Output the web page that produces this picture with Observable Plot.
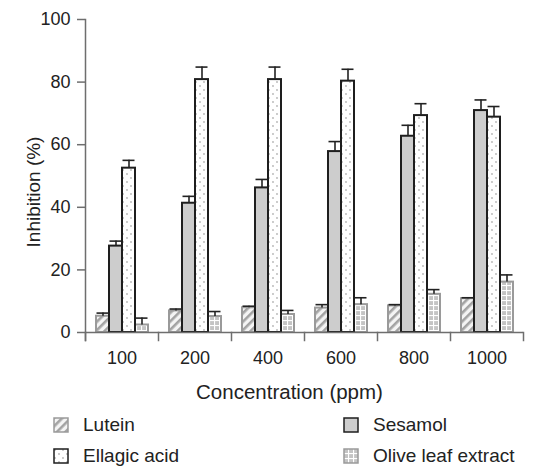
<!DOCTYPE html>
<html>
<head>
<meta charset="utf-8">
<script src="https://cdn.jsdelivr.net/npm/d3@7"></script>
<script src="https://cdn.jsdelivr.net/npm/@observablehq/plot@0.6"></script>
<style>
  body { margin: 0; background: #fff; font-family: "Liberation Sans", Arial, Helvetica, sans-serif; }
  #legend { position: relative; width: 551px; height: 61px; color: #222; font-size: 19px; }
  .item { position: absolute; display: flex; align-items: center; height: 20px; }
  .item svg { margin-right: 14px; }
</style>
</head>
<body>
<svg width="0" height="0" style="position:absolute">
  <defs>
    <pattern id="p-lutein" patternUnits="userSpaceOnUse" width="6" height="6" patternTransform="rotate(45)">
      <rect width="6" height="6" fill="#f4f4f4"></rect>
      <rect x="0" y="0" width="2.6" height="6" fill="#a3a3a3"></rect>
    </pattern>
    <pattern id="p-ellagic" patternUnits="userSpaceOnUse" width="8" height="8">
      <rect width="8" height="8" fill="#ffffff"></rect>
      <circle cx="2" cy="2" r="0.9" fill="#b5b5b5"></circle>
      <circle cx="6" cy="6" r="0.9" fill="#b5b5b5"></circle>
    </pattern>
    <pattern id="p-olive" patternUnits="userSpaceOnUse" width="5" height="5">
      <rect width="5" height="5" fill="#c4c4c4"></rect>
      <rect x="0" y="0" width="5" height="1.1" fill="#ffffff"></rect>
      <rect x="0" y="0" width="1.1" height="5" fill="#ffffff"></rect>
    </pattern>
  </defs>
</svg>
<div id="chart"></div>
<div id="legend"></div>
<script>
const groups = ["100", "200", "400", "600", "800", "1000"];
const series = ["Lutein", "Sesamol", "Ellagic acid", "Olive leaf extract"];
const lutein     = [5.2, 6.9, 7.9, 7.8, 8.5, 10.8];
const luteinErr  = [1.0, 0.6, 0.5, 1.1, 0.4, 0.3];
const sesamol    = [27.6, 41.3, 46.2, 57.8, 62.7, 70.9];
const sesamolErr = [1.6, 2.2, 2.7, 3.2, 3.5, 3.4];
const ellagic    = [52.5, 80.8, 80.8, 80.3, 69.3, 68.8];
const ellagicErr = [2.5, 4.0, 4.0, 3.8, 3.8, 3.4];
const olive      = [2.4, 5.1, 5.75, 8.9, 12.2, 16.1];
const oliveErr   = [2.2, 1.6, 1.3, 2.2, 1.5, 2.3];
const yTicks = [0, 20, 40, 60, 80, 100];

const valuesBySeries = {
  "Lutein": [lutein, luteinErr],
  "Sesamol": [sesamol, sesamolErr],
  "Ellagic acid": [ellagic, ellagicErr],
  "Olive leaf extract": [olive, oliveErr]
};
const rows = [];
groups.forEach((g, i) => {
  series.forEach(s => {
    rows.push({conc: g, series: s, value: valuesBySeries[s][0][i], err: valuesBySeries[s][1][i]});
  });
});

const styles = {
  "Lutein": {fill: "url(#p-lutein)", stroke: "#9a9a9a"},
  "Sesamol": {fill: "#cdcdcd", stroke: "#1e1e1e"},
  "Ellagic acid": {fill: "url(#p-ellagic)", stroke: "#1e1e1e"},
  "Olive leaf extract": {fill: "url(#p-olive)", stroke: "#9a9a9a"}
};
const drawOrder = ["Lutein", "Olive leaf extract", "Sesamol", "Ellagic acid"];

const axisGray = "#6e6e6e";
const H = 405, MT = 19, MB = 73;
const frameH = H - MT - MB;

const chart = Plot.plot({
  width: 551,
  height: H,
  marginLeft: 84,
  marginRight: 28,
  marginTop: MT,
  marginBottom: MB,
  style: {fontFamily: '"Liberation Sans", Arial, Helvetica, sans-serif', fontSize: "18px", color: "#222", background: "white"},
  fx: {domain: groups, padding: 0, label: null},
  x: {domain: series, paddingInner: 0, paddingOuter: 0.613, axis: null},
  y: {domain: [0, 100], label: null},
  marks: [
    ...drawOrder.map(s => Plot.barY(rows.filter(d => d.series === s), {
      fx: "conc", x: "series", y: "value",
      fill: styles[s].fill, stroke: styles[s].stroke, strokeWidth: 2
    })),
    Plot.ruleX(rows, {fx: "conc", x: "series", y1: "value", y2: d => d.value + d.err, stroke: "#222", strokeWidth: 1.6}),
    Plot.tickY(rows, {fx: "conc", x: "series", y: d => d.value + d.err, stroke: "#222", strokeWidth: 1.6, insetLeft: 0.5, insetRight: 0.5}),
    Plot.ruleY([0], {stroke: axisGray, strokeWidth: 1.5}),
    Plot.frame({anchor: "left", facetAnchor: "left", stroke: axisGray, strokeWidth: 1.5, insetBottom: -8}),
    Plot.frame({anchor: "left", stroke: axisGray, strokeWidth: 1.5, insetTop: frameH, insetBottom: -8}),
    Plot.frame({anchor: "right", facetAnchor: "right", stroke: axisGray, strokeWidth: 1.5, insetTop: frameH, insetBottom: -8}),
    Plot.axisY({ticks: yTicks, tickSize: 8, tickPadding: 7, stroke: axisGray, strokeWidth: 1.5, fill: "#222", label: null}),
    Plot.axisFx({anchor: "bottom", tickSize: 0, tickPadding: 19, fill: "#222", label: null}),
    Plot.text(["Concentration (ppm)"], {frameAnchor: "bottom", facet: "super", textAnchor: "middle", lineAnchor: "middle", dx: -15, dy: 60, fontSize: 20.5, fill: "#222"}),
    Plot.text(["Inhibition (%)"], {frameAnchor: "left", facet: "super", textAnchor: "middle", lineAnchor: "middle", rotate: -90, dx: -52, dy: 16, fontSize: 19, fill: "#222"})
  ]
});
document.getElementById("chart").appendChild(chart);

// Legend
const legend = document.getElementById("legend");
const legendPos = {
  "Lutein": [53, 10],
  "Sesamol": [343, 10],
  "Ellagic acid": [53, 41],
  "Olive leaf extract": [343, 41]
};
series.forEach(s => {
  const [lx, ly] = legendPos[s];
  const item = document.createElement("div");
  item.className = "item";
  item.style.left = lx + "px";
  item.style.top = ly + "px";
  item.innerHTML = `<svg width="16" height="16"><rect x="1" y="1" width="14" height="14" fill="${styles[s].fill}" stroke="${styles[s].stroke}" stroke-width="1.5"></rect></svg><span>${s}</span>`;
  legend.appendChild(item);
});
</script>
</body>
</html>
